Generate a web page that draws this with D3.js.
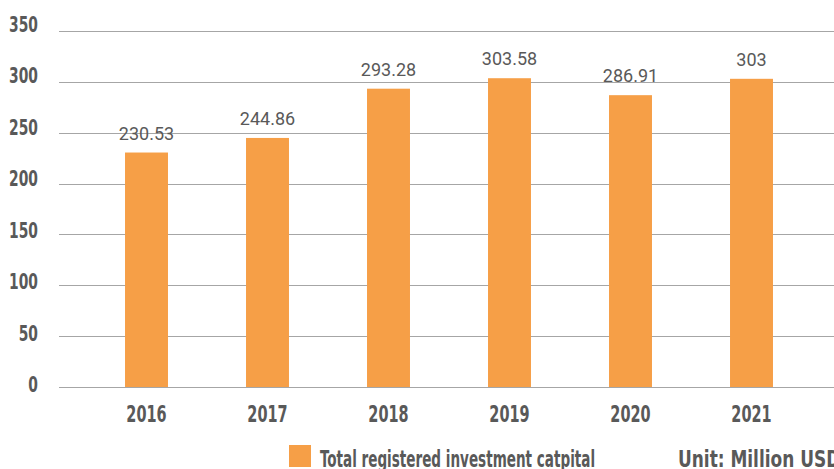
<!DOCTYPE html>
<html>
<head>
    <title>Total registered investment capital</title>
    <script src="https://d3js.org/d3.v7.min.js"></script>
    <style>
        body { margin: 0; background: #fff; }
        .cond { font-family: "DejaVu Sans Condensed", "DejaVu Sans", sans-serif; font-weight: bold; fill: #595959; }
        .val { font-family: Roboto, "Liberation Sans", sans-serif; fill: #595959; }
    </style>
</head>
<body>
<svg width="834" height="469"></svg>
<script>
    // data
    var years = ["2016", "2017", "2018", "2019", "2020", "2021"];
    var capital = [230.53, 244.86, 293.28, 303.58, 286.91, 303];
    var valueLabels = ["230.53", "244.86", "293.28", "303.58", "286.91", "303"];
    var yTicks = [0, 50, 100, 150, 200, 250, 300, 350];
    var legendLabel = "Total registered investment catpital";
    var unitLabel = "Unit: Million USD";

    var svg = d3.select("svg");
    var barColor = "#F69F47";

    // no condensed DIN here, so narrow the glyphs by hand
    function place(x, y, sq) {
        return "translate(" + x + "," + y + ") scale(" + (sq || 0.7) + ",1)";
    }

    var x = d3.scaleBand()
        .domain(years)
        .range([86, 812])
        .paddingInner(0.645)
        .paddingOuter(0.3225);

    var y = d3.scaleLinear()
        .domain([0, 350])
        .range([387, 31]);

    // gridlines
    svg.append("g")
        .selectAll("line")
        .data(yTicks)
        .enter().append("line")
        .attr("x1", 59)
        .attr("x2", 834)
        .attr("y1", function (d) { return Math.round(y(d)) + 0.5; })
        .attr("y2", function (d) { return Math.round(y(d)) + 0.5; })
        .attr("stroke", "#a6a6a6")
        .attr("stroke-width", 1.2);

    // y labels
    svg.append("g")
        .selectAll("text")
        .data(yTicks)
        .enter().append("text")
        .attr("class", "cond")
        .attr("transform", function (d) { return place(38, y(d) + 5 - (d / 350) * 4); })
        .attr("text-anchor", "end")
        .attr("font-size", 22)
        .text(function (d) { return d; });

    // bars
    svg.append("g")
        .selectAll("rect")
        .data(capital)
        .enter().append("rect")
        .attr("x", function (d, i) { return x(years[i]); })
        .attr("y", function (d) { return y(d); })
        .attr("width", x.bandwidth())
        .attr("height", function (d) { return y(0) - y(d); })
        .attr("fill", barColor);

    // value labels
    svg.append("g")
        .selectAll("text")
        .data(capital)
        .enter().append("text")
        .attr("class", "val")
        .attr("x", function (d, i) { return x(years[i]) + x.bandwidth() / 2; })
        .attr("y", function (d) { return y(d) - 13; })
        .attr("text-anchor", "middle")
        .attr("font-size", 18)
        .text(function (d, i) { return valueLabels[i]; });

    // x labels
    svg.append("g")
        .selectAll("text")
        .data(years)
        .enter().append("text")
        .attr("class", "cond")
        .attr("transform", function (d) { return place(x(d) + x.bandwidth() / 2, 422); })
        .attr("text-anchor", "middle")
        .attr("font-size", 23)
        .text(function (d) { return d; });

    // legend
    svg.append("rect")
        .attr("x", 289)
        .attr("y", 445)
        .attr("width", 22)
        .attr("height", 22)
        .attr("fill", barColor);

    svg.append("text")
        .attr("class", "cond")
        .attr("transform", place(320, 467, 0.655))
        .attr("font-size", 23)
        .text(legendLabel);

    svg.append("text")
        .attr("class", "cond")
        .attr("transform", place(678, 467, 0.82))
        .attr("font-size", 23)
        .text(unitLabel);
</script>
</body>
</html>
